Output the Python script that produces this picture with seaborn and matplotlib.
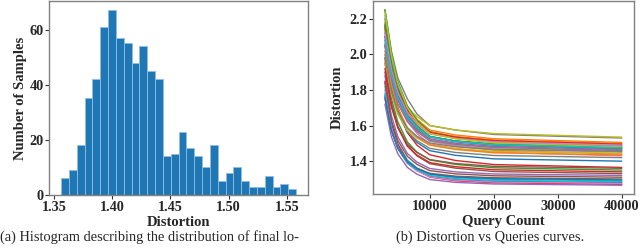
import matplotlib
matplotlib.use("Agg")
import matplotlib.pyplot as plt
import pandas as pd
import seaborn as sns

# ---- histogram of final distortion ----
hist_counts = [6, 9, 18, 35, 42, 61, 67, 57, 55, 48, 54, 45, 42, 14, 15,
               23, 17, 14, 10, 18, 5, 8, 10, 5, 3, 3, 7, 3, 4, 2]
hist_lo, hist_hi = 1.356, 1.558
hist_xticks = [1.35, 1.40, 1.45, 1.50, 1.55]
hist_yticks = [0, 20, 40, 60]

# ---- distortion vs queries curves ----
query_counts = [3000, 4000, 5000, 6500, 8000, 10000, 14000, 20000, 40000]
curves = [
    [2.05, 1.816, 1.68, 1.563, 1.505, 1.459, 1.433, 1.413, 1.40],
    [2.20, 1.978, 1.832, 1.707, 1.635, 1.575, 1.547, 1.526, 1.505],
    [1.98, 1.753, 1.621, 1.508, 1.45, 1.407, 1.382, 1.363, 1.35],
    [2.15, 1.867, 1.703, 1.561, 1.49, 1.436, 1.404, 1.381, 1.365],
    [1.88, 1.656, 1.538, 1.443, 1.395, 1.359, 1.34, 1.328, 1.32],
    [1.90, 1.706, 1.592, 1.495, 1.45, 1.409, 1.387, 1.371, 1.36],
    [2.10, 1.886, 1.745, 1.624, 1.555, 1.497, 1.470, 1.450, 1.43],
    [2.25, 2.02, 1.868, 1.75, 1.665, 1.60, 1.575, 1.55, 1.53],
    [2.20, 1.98, 1.82, 1.70, 1.65, 1.60, 1.575, 1.555, 1.535],
    [1.82, 1.608, 1.497, 1.407, 1.362, 1.327, 1.309, 1.298, 1.29],
    [1.77, 1.574, 1.471, 1.388, 1.347, 1.314, 1.297, 1.287, 1.28],
    [2.18, 1.943, 1.788, 1.655, 1.58, 1.514, 1.484, 1.462, 1.44],
    [2.25, 2.007, 1.847, 1.710, 1.63, 1.566, 1.536, 1.513, 1.49],
    [1.85, 1.618, 1.496, 1.398, 1.35, 1.311, 1.29, 1.279, 1.27],
    [2.12, 1.912, 1.776, 1.659, 1.59, 1.535, 1.509, 1.49, 1.47],
    [1.75, 1.57, 1.476, 1.399, 1.36, 1.332, 1.316, 1.307, 1.30],
    [2.08, 1.878, 1.746, 1.633, 1.57, 1.513, 1.488, 1.469, 1.45],
    [2.00, 1.791, 1.669, 1.565, 1.515, 1.472, 1.449, 1.432, 1.42],
    [2.15, 1.928, 1.782, 1.657, 1.585, 1.525, 1.497, 1.476, 1.455],
    [2.22, 1.985, 1.83, 1.698, 1.62, 1.559, 1.529, 1.507, 1.485],
    [2.10, 1.90, 1.769, 1.656, 1.59, 1.538, 1.513, 1.494, 1.475],
    [2.14, 1.935, 1.801, 1.686, 1.62, 1.564, 1.538, 1.519, 1.50],
    [2.05, 1.868, 1.748, 1.645, 1.585, 1.537, 1.514, 1.497, 1.48],
    [2.16, 1.947, 1.808, 1.688, 1.62, 1.562, 1.535, 1.515, 1.495],
    [1.72, 1.538, 1.442, 1.365, 1.327, 1.297, 1.281, 1.272, 1.265],
    [1.95, 1.727, 1.597, 1.485, 1.43, 1.386, 1.361, 1.342, 1.33],
    [1.80, 1.59, 1.48, 1.391, 1.346, 1.312, 1.293, 1.283, 1.275],
    [2.02, 1.841, 1.723, 1.622, 1.565, 1.516, 1.494, 1.477, 1.46],
    [1.96, 1.775, 1.666, 1.574, 1.53, 1.491, 1.471, 1.455, 1.445],
    [1.78, 1.582, 1.478, 1.394, 1.352, 1.32, 1.302, 1.292, 1.285],
    [1.76, 1.574, 1.476, 1.397, 1.358, 1.328, 1.311, 1.302, 1.295],
    [2.05, 1.829, 1.699, 1.589, 1.535, 1.490, 1.466, 1.447, 1.435],
    [2.17, 1.946, 1.799, 1.673, 1.60, 1.54, 1.512, 1.491, 1.47],
    [1.92, 1.711, 1.589, 1.485, 1.435, 1.392, 1.369, 1.352, 1.34],
    [2.06, 1.87, 1.745, 1.638, 1.575, 1.525, 1.501, 1.483, 1.465],
    [1.84, 1.628, 1.517, 1.427, 1.382, 1.347, 1.329, 1.318, 1.31],
    [2.12, 1.918, 1.786, 1.673, 1.61, 1.553, 1.528, 1.509, 1.49],
    [1.98, 1.791, 1.681, 1.586, 1.54, 1.502, 1.481, 1.466, 1.455],
    [2.24, 1.997, 1.837, 1.70, 1.62, 1.556, 1.526, 1.503, 1.48],
    [2.08, 1.886, 1.759, 1.65, 1.59, 1.536, 1.511, 1.493, 1.475],
]
curve_xticks = [10000, 20000, 30000, 40000]
curve_yticks = [1.4, 1.6, 1.8, 2.0, 2.2]

caption_a = "(a) Histogram describing the distribution of final lo-"
caption_b = "(b) Distortion vs Queries curves."

sns.set_style("ticks", {"axes.edgecolor": "#808080"})
plt.rcParams["font.family"] = ["Liberation Serif", "DejaVu Serif"]
plt.rcParams["font.weight"] = "bold"

fig = plt.figure(figsize=(6.4, 2.5), dpi=100)
ax1 = fig.add_axes([0.077, 0.22, 0.404, 0.776])
ax2 = fig.add_axes([0.583, 0.224, 0.407, 0.772])

n_bins = len(hist_counts)
bin_w = (hist_hi - hist_lo) / n_bins
hist_df = pd.DataFrame({
    "distortion": [hist_lo + (k + 0.5) * bin_w for k in range(n_bins)],
    "count": hist_counts,
})
sns.histplot(data=hist_df, x="distortion", weights="count", bins=n_bins,
             binrange=(hist_lo, hist_hi), ax=ax1, color="#1f77b4", alpha=1.0,
             edgecolor="#8fbde6", linewidth=0.6)
tick_font = dict(fontsize=10.3, fontweight="bold")
ax1.set_xticks(hist_xticks, [f"{t:.2f}" for t in hist_xticks], **tick_font)
ax1.set_yticks(hist_yticks, [str(t) for t in hist_yticks], **tick_font)
ax1.set_xlabel("Distortion", fontsize=10.5, fontweight="bold", labelpad=2)
ax1.set_ylabel("Number of Samples", fontsize=10.5, fontweight="bold", labelpad=2)

rows = []
for i, ys in enumerate(curves):
    for q, d in zip(query_counts, ys):
        rows.append({"curve": i, "query": q, "distortion": d})
df = pd.DataFrame(rows)
tab10 = sns.color_palette("tab10", 10)
palette = [tab10[i % 10] for i in range(len(curves))]
sns.lineplot(data=df, x="query", y="distortion", hue="curve", palette=palette,
             legend=False, linewidth=1.0, ax=ax2)
ax2.set_xticks(curve_xticks, [str(t) for t in curve_xticks], **tick_font)
ax2.set_yticks(curve_yticks, [f"{t:.1f}" for t in curve_yticks], **tick_font)
ax2.set_xlabel("Query Count", fontsize=10.5, fontweight="bold", labelpad=2)
ax2.set_ylabel("Distortion", fontsize=10.5, fontweight="bold", labelpad=4)

for ax in (ax1, ax2):
    ax.tick_params(length=3, width=0.8, color="#333333", pad=1)
    for sp in ax.spines.values():
        sp.set_linewidth(1.0)
        sp.set_visible(True)

fig.text(0.0, 0.052, caption_a, fontsize=10.4, fontweight="normal",
         ha="left", va="center")
fig.text(0.766, 0.052, caption_b, fontsize=10.4, fontweight="normal",
         ha="center", va="center")

fig.savefig("out.png", dpi=100)
